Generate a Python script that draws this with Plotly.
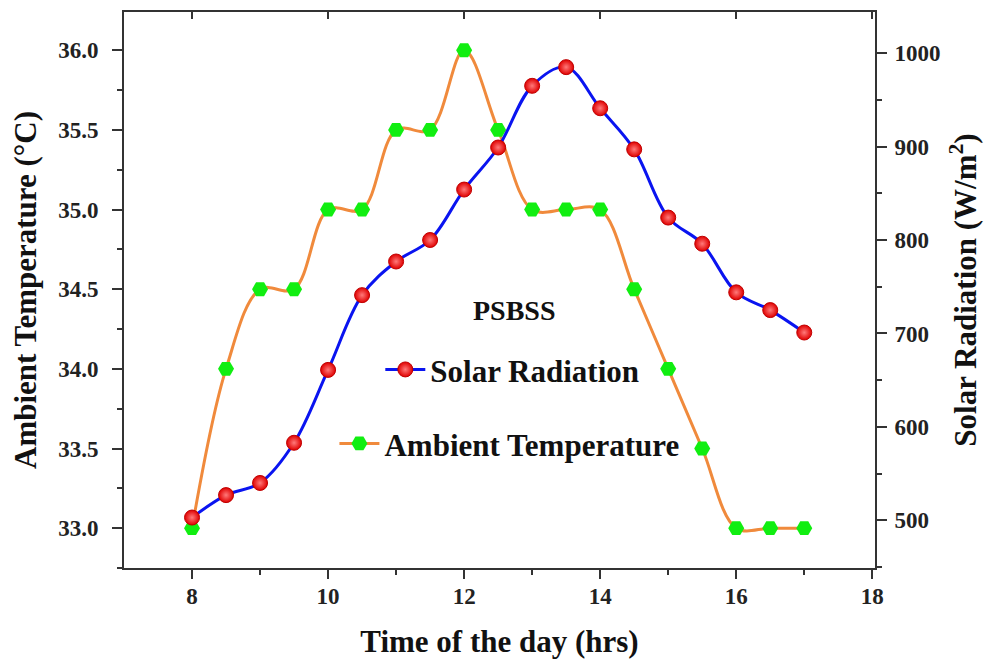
import plotly.graph_objects as go

hours = [8, 8.5, 9, 9.5, 10, 10.5, 11, 11.5, 12, 12.5, 13, 13.5, 14, 14.5, 15, 15.5, 16, 16.5, 17]
solar_radiation = [503, 527, 540, 583, 661, 741, 777, 800, 854, 899, 965, 985, 941, 897, 824, 796, 744, 725, 701]
ambient_temp = [33.0, 34.0, 34.5, 34.5, 35.0, 35.0, 35.5, 35.5, 36.0, 35.5, 35.0, 35.0, 35.0, 34.5, 34.0, 33.5, 33.0, 33.0, 33.0]

x_ticks = [8, 10, 12, 14, 16, 18]
x_ticktext = ["8", "10", "12", "14", "16", "18"]
x_minor = [9, 11, 13, 15, 17]
temp_ticks = [33.0, 33.5, 34.0, 34.5, 35.0, 35.5, 36.0]
temp_ticktext = ["33.0", "33.5", "34.0", "34.5", "35.0", "35.5", "36.0"]
temp_minor = [32.75, 33.25, 33.75, 34.25, 34.75, 35.25, 35.75]
rad_ticks = [500, 600, 700, 800, 900, 1000]
rad_ticktext = ["500", "600", "700", "800", "900", "1000"]
rad_minor = [450, 550, 650, 750, 850, 950]

FONT = "Liberation Serif"
AX = "#333333"


def bold(labels):
    return ["<b>" + t + "</b>" for t in labels]


fig = go.Figure()

fig.add_trace(go.Scatter(
    x=hours, y=solar_radiation, name="<b>Solar Radiation</b>", yaxis="y2",
    mode="lines+markers",
    line=dict(color="#0a14f0", width=3, shape="spline", smoothing=1.0),
    marker=dict(symbol="circle", size=15, color="#e00000",
                gradient=dict(type="radial", color="#ff7a7a"),
                line=dict(color="#c00000", width=1)),
    legend="legend",
))

fig.add_trace(go.Scatter(
    x=hours, y=ambient_temp, name="<b>Ambient Temperature</b>", yaxis="y",
    mode="lines+markers",
    line=dict(color="#f08a3c", width=3, shape="spline", smoothing=1.0),
    marker=dict(symbol="hexagon2", size=16, color="#11ee11", line=dict(width=0)),
    legend="legend2",
))

# invisible trace so the top mirrored axis (inward ticks) is drawn
fig.add_trace(go.Scatter(x=[hours[0]], y=[ambient_temp[0]], xaxis="x2", yaxis="y",
                         mode="markers", marker=dict(opacity=0), showlegend=False,
                         hoverinfo="skip"))

tickfont = dict(family=FONT, size=23, color="#222222")
titlefont = dict(family=FONT, size=31, color="#111111")

fig.update_layout(
    width=985, height=654,
    margin=dict(l=116, r=118, t=4, b=94),
    paper_bgcolor="white", plot_bgcolor="white",
    font=dict(family=FONT, color="#111111"),
    xaxis=dict(
        range=[7, 18.04], tickvals=x_ticks, ticktext=bold(x_ticktext),
        showline=True, linecolor=AX, linewidth=2,
        ticks="outside", ticklen=9, tickwidth=2, tickcolor=AX,
        minor=dict(tickvals=x_minor, ticks="outside", ticklen=5, tickwidth=2, tickcolor=AX),
        showgrid=False, zeroline=False, automargin=False,
        tickfont=tickfont, ticklabelstandoff=-3,
        title=dict(text="<b>Time of the day (hrs)</b>", font=titlefont, standoff=23),
    ),
    xaxis2=dict(
        overlaying="x", side="top", range=[7, 18.04], tickvals=x_ticks,
        showline=True, linecolor=AX, linewidth=2,
        ticks="inside", ticklen=7, tickwidth=2, tickcolor=AX,
        showticklabels=False, showgrid=False, zeroline=False, automargin=False,
    ),
    yaxis=dict(
        range=[32.75, 36.24], tickvals=temp_ticks, ticktext=bold(temp_ticktext),
        showline=True, linecolor=AX, linewidth=2,
        ticks="outside", ticklen=10, tickwidth=2, tickcolor=AX,
        minor=dict(tickvals=temp_minor, ticks="outside", ticklen=5, tickwidth=2, tickcolor=AX),
        showgrid=False, zeroline=False, automargin=False,
        tickfont=tickfont, ticklabelstandoff=9,
        title=dict(text="<b>Ambient Temperature (°C)</b>", font=titlefont, standoff=17),
    ),
    yaxis2=dict(
        overlaying="y", side="right",
        range=[449, 1044], tickvals=rad_ticks, ticktext=bold(rad_ticktext),
        showline=True, linecolor=AX, linewidth=2,
        ticks="outside", ticklen=10, tickwidth=2, tickcolor=AX,
        minor=dict(tickvals=rad_minor, ticks="outside", ticklen=5, tickwidth=2, tickcolor=AX),
        showgrid=False, zeroline=False, automargin=False,
        tickfont=tickfont, ticklabelstandoff=3,
        title=dict(text="<b>Solar Radiation (W/m<sup>2</sup>)</b>", font=titlefont, standoff=15),
    ),
    legend=dict(
        x=0.3413, y=0.3565, xanchor="left", yanchor="middle",
        bgcolor="rgba(0,0,0,0)", font=dict(family=FONT, size=31, color="#111111"),
        itemwidth=40,
    ),
    legend2=dict(
        x=0.2802, y=0.2234, xanchor="left", yanchor="middle",
        bgcolor="rgba(0,0,0,0)", font=dict(family=FONT, size=31, color="#111111"),
        itemwidth=40,
    ),
    annotations=[dict(
        text="<b>PSBSS</b>", x=0.5206, y=0.464, xref="paper", yref="paper",
        showarrow=False, font=dict(family=FONT, size=28, color="#111111"),
    )],
    showlegend=True,
)

fig.write_html("out.html")
